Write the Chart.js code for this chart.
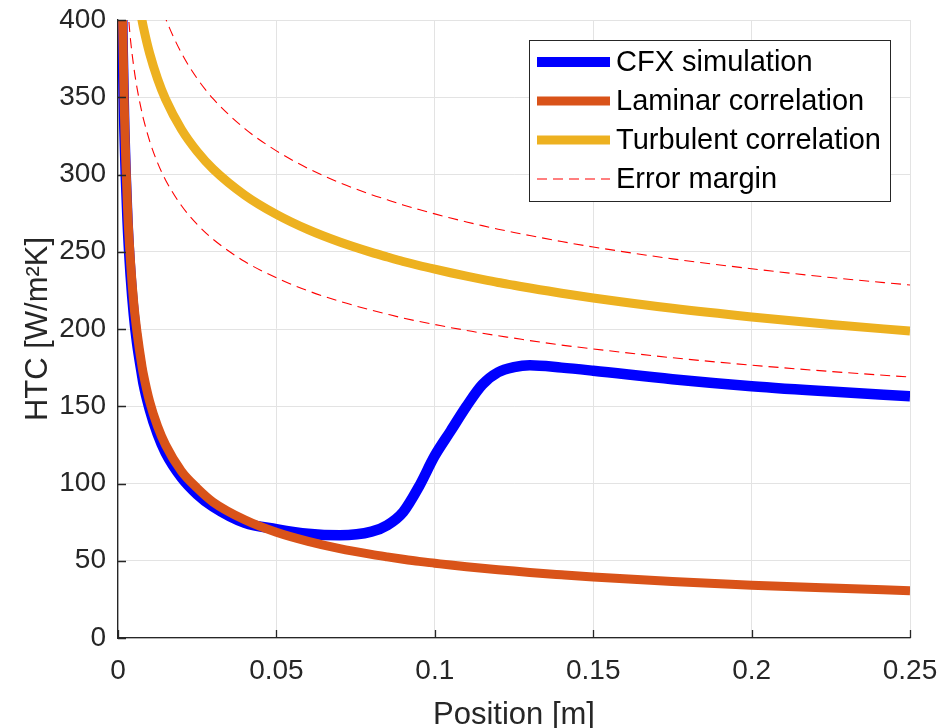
<!DOCTYPE html>
<html>
<head>
<meta charset="utf-8">
<script src="https://cdn.jsdelivr.net/npm/chart.js@4/dist/chart.umd.min.js"></script>
<style>
  html, body { margin: 0; padding: 0; background: #ffffff; }
  #wrap { width: 940px; height: 728px; }
</style>
</head>
<body>
<div id="wrap"><canvas id="c" width="940" height="728"></canvas></div>
<script>
// ---- data ----
const positions = [0.0005, 0.001, 0.0015, 0.002, 0.003, 0.004, 0.005, 0.006, 0.0076, 0.008, 0.01, 0.0125, 0.015, 0.02, 0.025, 0.03, 0.04, 0.05, 0.06, 0.07, 0.08, 0.085, 0.09, 0.095, 0.1, 0.105, 0.11, 0.115, 0.12, 0.125, 0.13, 0.14, 0.15, 0.175, 0.2, 0.225, 0.25];
const cfxSimulation = [660, 465, 380, 330, 270, 234, 209, 191, 170, 165, 148, 132, 120, 104, 93, 85, 74.5, 70.5, 67.5, 66.5, 68.8, 73, 81.5, 98, 118, 134, 150, 164, 172, 175.3, 176.5, 175, 173, 167.5, 163, 159.5, 156.5];
const laminarCorrelation = [684, 484, 395, 342, 279, 242, 216, 198, 175.5, 171, 153, 137, 125, 108, 97, 88, 76.5, 68.4, 62.5, 57.8, 54.1, 52.5, 51, 49.6, 48.4, 47.2, 46.1, 45.1, 44.2, 43.3, 42.4, 40.9, 39.5, 36.6, 34.2, 32.3, 30.6];
const turbulentCorrelation = [null, null, null, null, null, null, 434.5, 419, 399.6, 395.5, 378.3, 361.8, 348.8, 329.3, 314.9, 303.6, 286.7, 274.2, 264.3, 256.3, 249.6, 246.6, 243.7, 241.1, 238.7, 236.4, 234.2, 232.1, 230.1, 228.3, 226.5, 223.1, 220.1, 213.4, 207.8, 202.9, 198.7];
const errorUpper = [null, null, null, null, null, null, null, null, null, null, 435, 416, 401.1, 378.7, 362.1, 349.1, 329.7, 315.3, 303.9, 294.7, 287.0, 283.6, 280.3, 277.3, 274.5, 271.8, 269.3, 266.9, 264.6, 262.5, 260.5, 256.6, 253.1, 245.4, 239.0, 233.3, 228.5];
const errorLower = [null, null, null, null, 409, 386.2, 369.3, 356.1, 339.7, 336.2, 321.6, 307.5, 296.5, 279.9, 267.7, 258.1, 243.7, 233.1, 224.7, 217.9, 212.2, 209.6, 207.1, 204.9, 202.9, 200.9, 199.1, 197.3, 195.6, 194.1, 192.5, 189.6, 187.1, 181.4, 176.6, 172.5, 168.9];
const xTickValues = [0, 0.05, 0.1, 0.15, 0.2, 0.25];
const xTickLabels = ['0', '0.05', '0.1', '0.15', '0.2', '0.25'];
const yTickValues = [0, 50, 100, 150, 200, 250, 300, 350, 400];
const yTickLabels = ['0', '50', '100', '150', '200', '250', '300', '350', '400'];
const seriesNames = ['CFX simulation', 'Laminar correlation', 'Turbulent correlation', 'Error margin'];

// ---- styling ----
const FONT = "'Liberation Sans', Arial, Helvetica, sans-serif";
const AXIS = '#262626';
const GRID = '#e3e3e3';
const C_BLUE = '#0000ff', C_ORANGE = '#D95319', C_YELLOW = '#EDB120', C_RED = '#ff0000';

function pts(arr) {
  return positions.map((x, i) => ({ x: x, y: arr[i] }));
}

const datasets = [
  { label: seriesNames[0], data: pts(cfxSimulation), borderColor: C_BLUE, borderWidth: 10.5, legendWidth: 10, order: 5 },
  { label: seriesNames[1], data: pts(laminarCorrelation), borderColor: C_ORANGE, borderWidth: 9, legendWidth: 9, order: 4 },
  { label: seriesNames[2], data: pts(turbulentCorrelation), borderColor: C_YELLOW, borderWidth: 9, legendWidth: 9, order: 3 },
  { label: seriesNames[3], data: pts(errorUpper), borderColor: C_RED, borderWidth: 1.1, legendWidth: 1.1, borderDash: [10, 6], order: 2 },
  { label: seriesNames[3] + ' (lower)', data: pts(errorLower), borderColor: C_RED, borderWidth: 1.1, borderDash: [10, 6], order: 1 }
].map(d => Object.assign({
  pointRadius: 0, pointHoverRadius: 0, fill: false, tension: 0.4,
  cubicInterpolationMode: 'monotone', clip: 0, spanGaps: false,
  borderCapStyle: 'butt', borderJoinStyle: 'round'
}, d));

const innerTicks = {
  id: 'innerTicks',
  afterDraw(chart) {
    const ctx = chart.ctx, a = chart.chartArea;
    const xs = chart.scales.x, ys = chart.scales.y;
    ctx.save();
    ctx.strokeStyle = AXIS; ctx.lineWidth = 1.3;
    ctx.beginPath();
    xTickValues.forEach(v => { const p = Math.round(xs.getPixelForValue(v)) + 0.5; ctx.moveTo(p, a.bottom); ctx.lineTo(p, a.bottom - 8); });
    yTickValues.forEach(v => { const p = Math.round(ys.getPixelForValue(v)) + 0.5; ctx.moveTo(a.left, p); ctx.lineTo(a.left + 8, p); });
    ctx.stroke();
    ctx.restore();
  }
};

const boxLegend = {
  id: 'boxLegend',
  afterDraw(chart) {
    const ctx = chart.ctx;
    const L = 529, T = 40, R = 891, B = 202;
    ctx.save();
    ctx.fillStyle = '#ffffff';
    ctx.fillRect(L, T, R - L, B - T);
    ctx.strokeStyle = AXIS; ctx.lineWidth = 1;
    ctx.strokeRect(L + 0.5, T + 0.5, R - L - 1, B - T - 1);
    const rowsY = [62, 101, 140, 179];
    ctx.font = '29px ' + FONT;
    ctx.textBaseline = 'middle';
    ctx.textAlign = 'left';
    for (let i = 0; i < 4; i++) {
      const ds = chart.data.datasets[i];
      ctx.beginPath();
      ctx.strokeStyle = ds.borderColor;
      ctx.lineWidth = ds.legendWidth;
      ctx.setLineDash(ds.borderDash || []);
      ctx.moveTo(537, rowsY[i]); ctx.lineTo(610, rowsY[i]);
      ctx.stroke();
      ctx.setLineDash([]);
      ctx.fillStyle = '#000000';
      ctx.fillText(ds.label, 616, rowsY[i] + 1);
    }
    ctx.restore();
  }
};

new Chart(document.getElementById('c'), {
  type: 'line',
  data: { datasets: datasets },
  options: {
    responsive: false,
    animation: false,
    devicePixelRatio: 1,
    layout: { padding: { left: 0, right: 30, top: 20, bottom: 0 } },
    plugins: { legend: { display: false }, tooltip: { enabled: false } },
    events: [],
    scales: {
      x: {
        type: 'linear', min: 0, max: 0.25,
        afterFit(s) { s.height = 90; s.paddingLeft = 0; s.paddingRight = 0; },
        afterBuildTicks(s) { s.ticks = xTickValues.map(v => ({ value: v })); },
        grid: { color: GRID, lineWidth: 1, drawTicks: false },
        border: { color: AXIS, width: 1.3 },
        ticks: {
          padding: 16, color: AXIS, maxRotation: 0, autoSkip: false,
          font: { family: FONT, size: 28 },
          callback: (v, i) => xTickLabels[i]
        },
        title: { display: true, text: 'Position [m]', color: AXIS, font: { family: FONT, size: 31 }, padding: { top: 0, bottom: -6 } }
      },
      y: {
        type: 'linear', min: 0, max: 400,
        afterFit(s) { s.width = 118; s.paddingTop = 0; s.paddingBottom = 0; },
        afterBuildTicks(s) { s.ticks = yTickValues.map(v => ({ value: v })); },
        grid: { color: GRID, lineWidth: 1, drawTicks: false },
        border: { color: AXIS, width: 1.3 },
        ticks: {
          padding: 12, color: AXIS, autoSkip: false,
          font: { family: FONT, size: 28 },
          callback: (v, i) => yTickLabels[i]
        },
        title: { display: true, text: 'HTC [W/m²K]', color: AXIS, font: { family: FONT, size: 31 }, padding: { top: 20, bottom: 0 } }
      }
    }
  },
  plugins: [innerTicks, boxLegend]
});
</script>
</body>
</html>
